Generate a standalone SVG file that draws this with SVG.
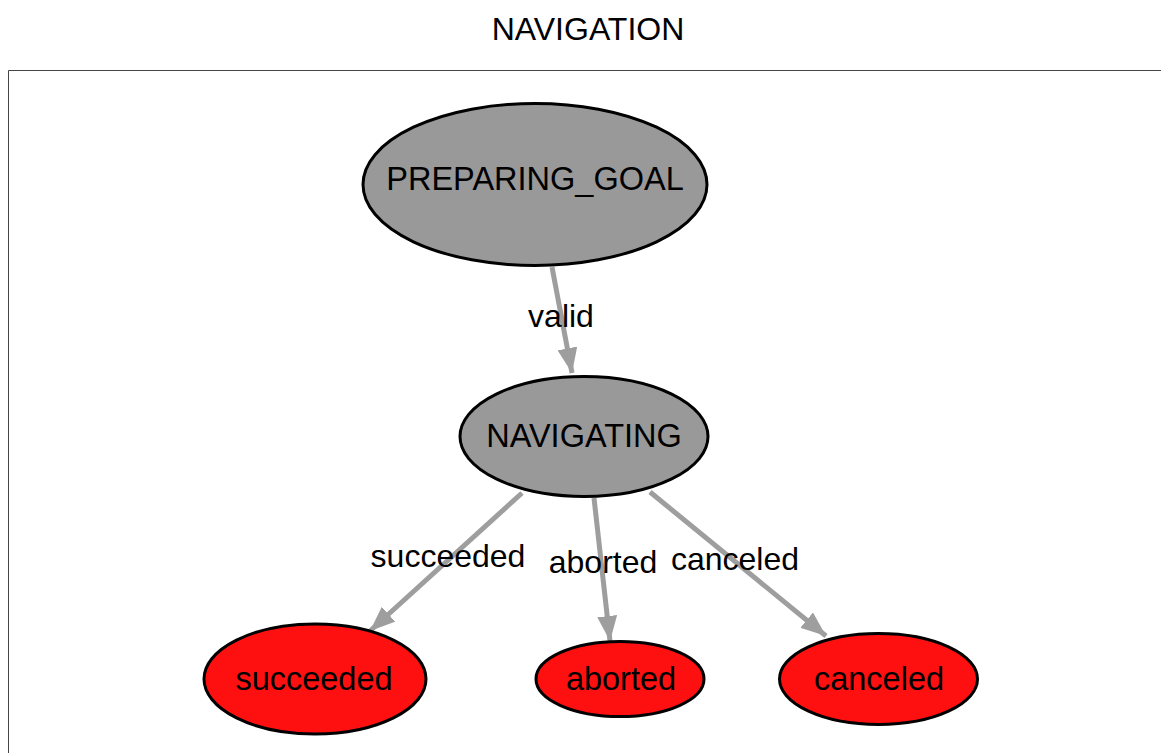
<svg xmlns="http://www.w3.org/2000/svg" width="1161" height="753" viewBox="0 0 1161 753">
<style>
text{font-family:"Liberation Sans",Arial,sans-serif;font-size:32px;fill:#000;text-anchor:middle}
.n{font-size:32.5px}
.gray{fill:#999999;stroke:#000;stroke-width:3}
.red{fill:#ff1010;stroke:#000;stroke-width:3}
.edge{stroke:#9e9e9e;stroke-width:5;fill:none}
</style>
<defs>
<marker id="arr" markerWidth="5" markerHeight="4" refX="5" refY="2" orient="auto" markerUnits="strokeWidth">
<path d="M0,0 L5,2 L0,4 Z" fill="#9e9e9e"/>
</marker>
</defs>
<rect width="1161" height="753" fill="#fff"/>
<text x="588" y="40">NAVIGATION</text>
<path d="M8.5,753 V70.5 H1161" fill="none" stroke="#444" stroke-width="1"/>
<g id="connectors">
<line class="edge" x1="552" y1="267" x2="572" y2="373" marker-end="url(#arr)"/>
<text x="561" y="327">valid</text>
<line class="edge" x1="522" y1="493" x2="370" y2="631" marker-end="url(#arr)"/>
<text x="448" y="567">succeeded</text>
<line class="edge" x1="594" y1="498" x2="610" y2="641" marker-end="url(#arr)"/>
<text x="603" y="573">aborted</text>
<line class="edge" x1="650" y1="492" x2="826" y2="636" marker-end="url(#arr)"/>
<text x="735" y="570">canceled</text>
</g>
<g id="PREPARING_GOAL">
<ellipse class="gray" cx="535" cy="184.5" rx="172" ry="81"/>
<text class="n" x="535" y="190">PREPARING_GOAL</text>
</g>
<g id="NAVIGATING">
<ellipse class="gray" cx="584" cy="436.5" rx="124" ry="60"/>
<text class="n" x="584" y="447">NAVIGATING</text>
</g>
<g id="succeeded">
<ellipse class="red" cx="315" cy="679" rx="111" ry="55"/>
<text class="n" x="314" y="690">succeeded</text>
</g>
<g id="aborted">
<ellipse class="red" cx="620" cy="679" rx="84" ry="37.5"/>
<text class="n" x="621" y="690">aborted</text>
</g>
<g id="canceled">
<ellipse class="red" cx="878.5" cy="679" rx="99" ry="45.5"/>
<text class="n" x="879" y="690">canceled</text>
</g>
</svg>
